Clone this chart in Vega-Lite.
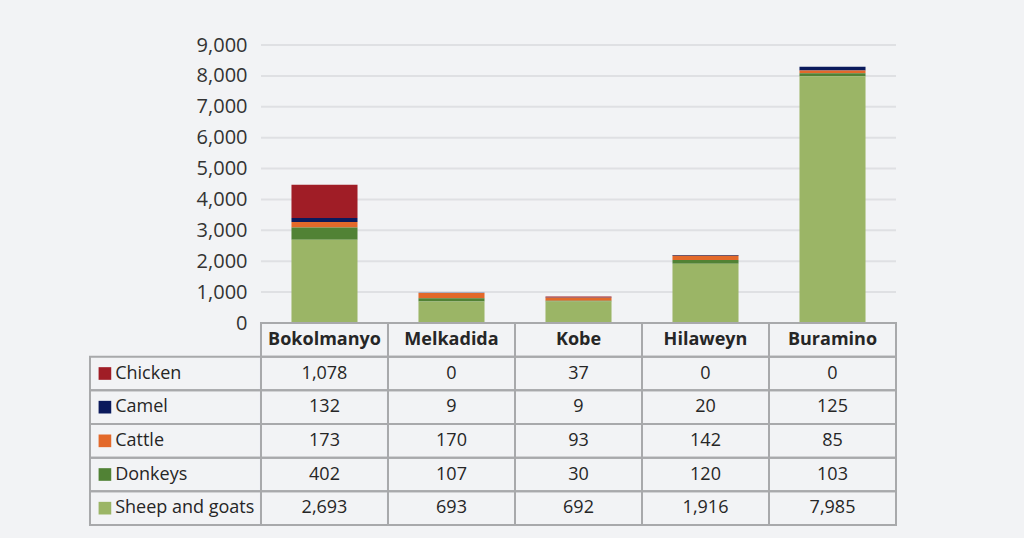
{
  "$schema": "https://vega.github.io/schema/vega-lite/v6.json",
  "background": "#f2f3f5",
  "padding": {"left": 88, "top": 35, "right": 129, "bottom": 12},
  "config": {"font": "Open Sans", "view": {"stroke": null}},
  "datasets": {
    "livestock": [
      {"site": "Bokolmanyo", "series": "Chicken", "value": 1078},
      {"site": "Bokolmanyo", "series": "Camel", "value": 132},
      {"site": "Bokolmanyo", "series": "Cattle", "value": 173},
      {"site": "Bokolmanyo", "series": "Donkeys", "value": 402},
      {"site": "Bokolmanyo", "series": "Sheep and goats", "value": 2693},
      {"site": "Melkadida", "series": "Chicken", "value": 0},
      {"site": "Melkadida", "series": "Camel", "value": 9},
      {"site": "Melkadida", "series": "Cattle", "value": 170},
      {"site": "Melkadida", "series": "Donkeys", "value": 107},
      {"site": "Melkadida", "series": "Sheep and goats", "value": 693},
      {"site": "Kobe", "series": "Chicken", "value": 37},
      {"site": "Kobe", "series": "Camel", "value": 9},
      {"site": "Kobe", "series": "Cattle", "value": 93},
      {"site": "Kobe", "series": "Donkeys", "value": 30},
      {"site": "Kobe", "series": "Sheep and goats", "value": 692},
      {"site": "Hilaweyn", "series": "Chicken", "value": 0},
      {"site": "Hilaweyn", "series": "Camel", "value": 20},
      {"site": "Hilaweyn", "series": "Cattle", "value": 142},
      {"site": "Hilaweyn", "series": "Donkeys", "value": 120},
      {"site": "Hilaweyn", "series": "Sheep and goats", "value": 1916},
      {"site": "Buramino", "series": "Chicken", "value": 0},
      {"site": "Buramino", "series": "Camel", "value": 125},
      {"site": "Buramino", "series": "Cattle", "value": 85},
      {"site": "Buramino", "series": "Donkeys", "value": 103},
      {"site": "Buramino", "series": "Sheep and goats", "value": 7985}
    ],
    "grid": [
      {"v": 1000}, {"v": 2000}, {"v": 3000}, {"v": 4000}, {"v": 5000},
      {"v": 6000}, {"v": 7000}, {"v": 8000}, {"v": 9000}
    ]
  },
  "spacing": 0,
  "bounds": "flush",
  "vconcat": [
    {
      "width": 806,
      "height": 278,
      "layer": [
        {
          "data": {"name": "grid"},
          "mark": {"type": "rule", "stroke": "#dfe0e3", "strokeWidth": 2},
          "encoding": {
            "x": {"datum": "Bokolmanyo", "type": "nominal", "bandPosition": 0,
              "scale": {"domain": ["Bokolmanyo", "Melkadida", "Kobe", "Hilaweyn", "Buramino"], "paddingInner": 0, "paddingOuter": 0.6732, "align": 1},
              "axis": null},
            "x2": {"datum": "Buramino", "bandPosition": 1},
            "y": {"field": "v", "type": "quantitative",
              "scale": {"domain": [0, 9000], "nice": false},
              "axis": {"offset": -171, "domain": false, "ticks": false, "grid": false, "labelPadding": 14,
                "labelOverlap": false,
                "values": [0, 1000, 2000, 3000, 4000, 5000, 6000, 7000, 8000, 9000],
                "format": ",d", "labelFontSize": 20, "labelColor": "#333333", "title": null}}
          }
        },
        {
          "data": {"name": "livestock"},
          "transform": [
            {"calculate": "indexof(['Sheep and goats', 'Donkeys', 'Cattle', 'Camel', 'Chicken'], datum.series)", "as": "stackOrder"}
          ],
          "mark": {"type": "bar", "width": {"band": 0.52}},
          "encoding": {
            "x": {"field": "site", "type": "nominal",
              "scale": {"domain": ["Bokolmanyo", "Melkadida", "Kobe", "Hilaweyn", "Buramino"], "paddingInner": 0, "paddingOuter": 0.6732, "align": 1},
              "axis": null},
            "y": {"field": "value", "type": "quantitative", "stack": "zero",
              "scale": {"domain": [0, 9000], "nice": false},
              "axis": {"offset": -171, "domain": false, "ticks": false, "grid": false, "labelPadding": 14,
                "labelOverlap": false,
                "values": [0, 1000, 2000, 3000, 4000, 5000, 6000, 7000, 8000, 9000],
                "format": ",d", "labelFontSize": 20, "labelColor": "#333333", "title": null}},
            "order": {"field": "stackOrder", "type": "quantitative", "sort": "ascending"},
            "color": {"field": "series", "type": "nominal",
              "scale": {"domain": ["Sheep and goats", "Donkeys", "Cattle", "Camel", "Chicken"],
                "range": ["#9bb566", "#518235", "#e3692a", "#0b1a5c", "#a01d26"]},
              "legend": null}
          }
        }
      ]
    },
    {
      "width": 806,
      "height": 202,
      "data": {"name": "livestock"},
      "encoding": {
        "y": {"field": "series", "type": "nominal",
          "scale": {"domain": ["header", "Chicken", "Camel", "Cattle", "Donkeys", "Sheep and goats"], "paddingInner": 0, "paddingOuter": 0},
          "axis": null}
      },
      "layer": [
        {
          "transform": [{"filter": "datum.series === 'Chicken'"}],
          "mark": {"type": "rect", "fill": "transparent", "stroke": "#a8a9ab", "strokeWidth": 2},
          "encoding": {
            "x": {"field": "site", "type": "nominal",
              "scale": {"domain": ["Bokolmanyo", "Melkadida", "Kobe", "Hilaweyn", "Buramino"], "paddingInner": 0, "paddingOuter": 0.6732, "align": 1},
              "axis": null},
            "y": {"datum": "header", "type": "nominal"}
          }
        },
        {
          "mark": {"type": "rect", "fill": "transparent", "stroke": "#a8a9ab", "strokeWidth": 2},
          "encoding": {
            "x": {"field": "site", "type": "nominal"}
          }
        },
        {
          "transform": [{"filter": "datum.site === 'Bokolmanyo'"}],
          "mark": {"type": "rect", "fill": "transparent", "stroke": "#a8a9ab", "strokeWidth": 2},
          "encoding": {
            "x": {"datum": "Bokolmanyo", "type": "nominal", "bandPosition": -1.3465},
            "x2": {"datum": "Bokolmanyo", "bandPosition": 0}
          }
        },
        {
          "transform": [{"filter": "datum.site === 'Bokolmanyo'"}],
          "mark": {"type": "point", "shape": "square", "filled": true, "opacity": 1, "size": 160},
          "encoding": {
            "x": {"datum": "Bokolmanyo", "type": "nominal", "bandPosition": -1.229},
            "color": {"field": "series", "type": "nominal", "legend": null}
          }
        },
        {
          "transform": [{"filter": "datum.site === 'Bokolmanyo'"}],
          "mark": {"type": "text", "align": "left", "fontSize": 18, "color": "#262626"},
          "encoding": {
            "x": {"datum": "Bokolmanyo", "type": "nominal", "bandPosition": -1.148},
            "text": {"field": "series"}
          }
        },
        {
          "mark": {"type": "text", "align": "center", "fontSize": 18, "color": "#262626"},
          "encoding": {
            "x": {"field": "site", "type": "nominal"},
            "text": {"field": "value", "format": ",d"}
          }
        },
        {
          "transform": [{"filter": "datum.series === 'Chicken'"}],
          "mark": {"type": "text", "align": "center", "fontSize": 18, "fontWeight": "bold", "color": "#262626"},
          "encoding": {
            "x": {"field": "site", "type": "nominal"},
            "y": {"datum": "header", "type": "nominal"},
            "text": {"field": "site"}
          }
        }
      ]
    }
  ]
}
